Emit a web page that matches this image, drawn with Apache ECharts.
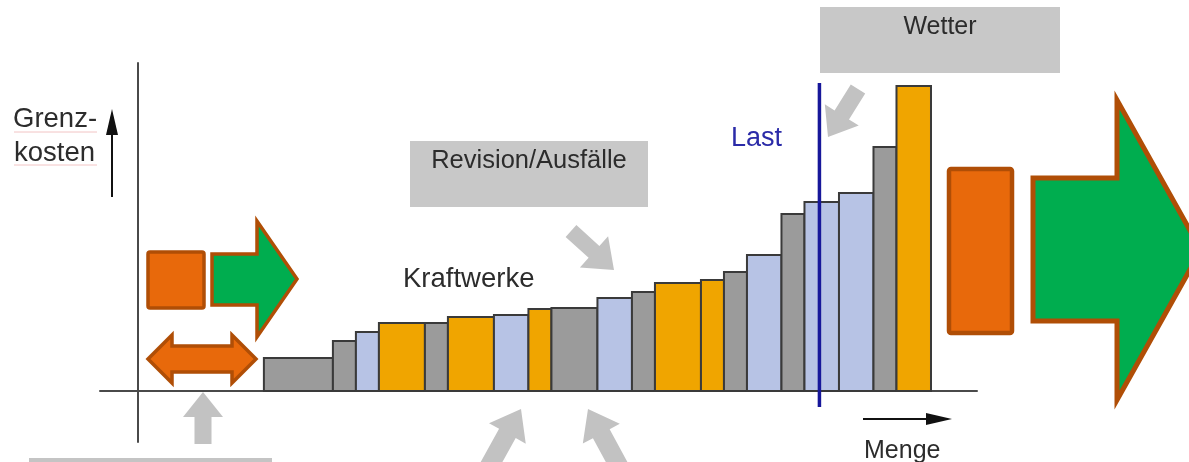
<!DOCTYPE html>
<html>
<head>
<meta charset="utf-8">
<script src="https://cdn.jsdelivr.net/npm/echarts@6/dist/echarts.min.js"></script>
<style>
  html, body { margin: 0; padding: 0; background: #ffffff; }
  #chart { width: 1189px; height: 462px; }
</style>
</head>
<body>
<div id="chart"></div>
<script>
// ---- Data: merit order (Kraftwerke sorted by Grenzkosten) ----
const blockWidths   = [6, 2, 2, 4, 2, 4, 3, 2, 4, 3, 2, 4, 2, 2, 3, 2, 3, 3, 2, 3];       // capacity per plant (Menge)
const marginalCosts = [33, 50, 59, 68, 68, 74, 76, 82, 83, 93, 99, 108, 111, 119, 136, 177, 189, 198, 244, 305]; // Grenzkosten
const plantTypes    = ['grau','grau','blau','orange','grau','orange','blau','orange','grau','blau',
                       'grau','orange','orange','grau','blau','grau','blau','blau','grau','orange'];
const firstBlockStart = 11;      // Menge where the first plant block begins
const loadLevel = 59.3;          // "Last" (demand) position on the Menge axis
const loadLineRange = [-16, 308];// vertical extent of the Last line (axis units)

const typeColors = { grau: '#9b9b9b', blau: '#b7c3e5', orange: '#f0a500' };

// build cumulative blocks
const blocks = [];
let cum = firstBlockStart;
for (let i = 0; i < blockWidths.length; i++) {
  blocks.push([cum, cum + blockWidths[i], marginalCosts[i], i]);
  cum += blockWidths[i];
}

function arrowPts(tx, ty, hx, hy, shaftW, headW, headL) {
  const dx = hx - tx, dy = hy - ty, L = Math.hypot(dx, dy);
  const ux = dx / L, uy = dy / L, nx = -uy, ny = ux;
  const bx = hx - ux * headL, by = hy - uy * headL;
  const s = shaftW / 2, h = headW / 2;
  return [[tx + nx * s, ty + ny * s], [bx + nx * s, by + ny * s], [bx + nx * h, by + ny * h], [hx, hy],
          [bx - nx * h, by - ny * h], [bx - nx * s, by - ny * s], [tx - nx * s, ty - ny * s]];
}

const TXT = '#2c2c2c';
const FONT = 'Liberation Sans, Arial, sans-serif';
const GRAYBOX = '#c8c8c8';
const GRAYARROW = '#c2c2c2';
const ORANGE = '#e8690b', ORANGE_STROKE = '#b04e06', GREEN = '#00ad4f';

function txt(text, x, y, size, align, color) {
  return { type: 'text', z: 20, style: { text: text, x: x, y: y, font: size + 'px ' + FONT,
           fill: color || TXT, align: align, verticalAlign: 'middle' } };
}

const graphics = [
  // gray boxes
  { type: 'rect', z: 5, shape: { x: 410, y: 141, width: 238, height: 66 }, style: { fill: GRAYBOX } },
  { type: 'rect', z: 5, shape: { x: 820, y: 7, width: 240, height: 66 }, style: { fill: GRAYBOX } },
  { type: 'rect', z: 5, shape: { x: 29, y: 458, width: 243, height: 10 }, style: { fill: '#c4c4c4' } },
  // gray influence arrows
  { type: 'polygon', z: 6, shape: { points: arrowPts(571, 231, 614, 270, 16, 42, 27) }, style: { fill: GRAYARROW } },
  { type: 'polygon', z: 6, shape: { points: arrowPts(858, 89, 828, 137, 17, 40, 26) }, style: { fill: GRAYARROW } },
  { type: 'polygon', z: 6, shape: { points: arrowPts(486, 472, 521, 409, 19, 42, 28) }, style: { fill: GRAYARROW } },
  { type: 'polygon', z: 6, shape: { points: arrowPts(622, 472, 588, 409, 19, 42, 28) }, style: { fill: GRAYARROW } },
  { type: 'polygon', z: 6, shape: { points: arrowPts(203, 444, 203, 392, 17, 40, 25) }, style: { fill: GRAYARROW } },
  // small orange / green symbols
  { type: 'rect', z: 10, shape: { x: 148, y: 252, width: 56, height: 56, r: 2 },
    style: { fill: ORANGE, stroke: ORANGE_STROKE, lineWidth: 3.5 } },
  { type: 'polygon', z: 10, shape: { points: [[212,254],[257,254],[257,221],[297,279],[257,337],[257,305],[212,305]] },
    style: { fill: GREEN, stroke: ORANGE_STROKE, lineWidth: 3.5 } },
  { type: 'polygon', z: 10, shape: { points: [[148,359],[172,335],[172,346],[232,346],[232,335],[256,359],[232,383],[232,372],[172,372],[172,383]] },
    style: { fill: ORANGE, stroke: ORANGE_STROKE, lineWidth: 3.5 } },
  // big orange / green symbols
  { type: 'rect', z: 10, shape: { x: 949, y: 169, width: 63, height: 164, r: 2 },
    style: { fill: ORANGE, stroke: ORANGE_STROKE, lineWidth: 4.5 } },
  { type: 'polygon', z: 10, shape: { points: [[1033,178],[1117,178],[1117,100],[1201,250],[1117,400],[1117,321],[1033,321]] },
    style: { fill: GREEN, stroke: ORANGE_STROKE, lineWidth: 5 } },
  // axis direction arrows
  { type: 'line', z: 10, shape: { x1: 112, y1: 197, x2: 112, y2: 128 }, style: { stroke: '#111', lineWidth: 2 } },
  { type: 'polygon', z: 10, shape: { points: [[112,109],[118,135],[106,135]] }, style: { fill: '#111' } },
  { type: 'line', z: 10, shape: { x1: 863, y1: 419, x2: 930, y2: 419 }, style: { stroke: '#111', lineWidth: 2 } },
  { type: 'polygon', z: 10, shape: { points: [[952,419],[926,413],[926,425]] }, style: { fill: '#111' } },
  // spell-check squiggles
  { type: 'line', z: 10, shape: { x1: 14, y1: 132, x2: 97, y2: 132 }, style: { stroke: '#f2c4c4', lineWidth: 1 } },
  { type: 'line', z: 10, shape: { x1: 14, y1: 165, x2: 97, y2: 165 }, style: { stroke: '#f2c4c4', lineWidth: 1 } },
  // texts
  txt('Grenz-', 13, 119, 27.5, 'left'),
  txt('kosten', 14, 153, 27.5, 'left'),
  txt('Revision/Ausfälle', 529, 161, 25.5, 'center'),
  txt('Kraftwerke', 403, 279, 27.5, 'left'),
  txt('Last', 731, 139, 27, 'left', '#2b2ba8'),
  txt('Wetter', 940, 27, 25, 'center'),
  txt('Menge', 864, 451, 25, 'left')
];

const chart = echarts.init(document.getElementById('chart'), null, { renderer: 'canvas' });
chart.setOption({
  animation: false,
  backgroundColor: '#ffffff',
  grid: { left: 100, right: 212, top: 63, bottom: 20 },
  xAxis: {
    type: 'value', min: -3.25, max: 73,
    axisLine: { show: true, onZero: true, lineStyle: { color: '#4a4a4a', width: 2 } },
    axisTick: { show: false }, axisLabel: { show: false }, splitLine: { show: false }
  },
  yAxis: {
    type: 'value', min: -51, max: 328,
    axisLine: { show: true, onZero: true, lineStyle: { color: '#4a4a4a', width: 2 } },
    axisTick: { show: false }, axisLabel: { show: false }, splitLine: { show: false }
  },
  series: [
    {
      type: 'custom',
      z: 3,
      data: blocks,
      renderItem: function (params, api) {
        const p0 = api.coord([api.value(0), 0]);
        const p1 = api.coord([api.value(1), api.value(2)]);
        const t = plantTypes[api.value(3)];
        return {
          type: 'rect',
          shape: { x: p0[0], y: p1[1], width: p1[0] - p0[0], height: p0[1] - p1[1] },
          style: { fill: typeColors[t], stroke: '#3a3a3a', lineWidth: 2 }
        };
      }
    },
    {
      type: 'line',
      z: 4,
      data: [[loadLevel, loadLineRange[1]], [loadLevel, loadLineRange[0]]],
      showSymbol: false,
      symbol: 'none',
      lineStyle: { color: '#17179a', width: 3.5 },
      silent: true
    }
  ],
  graphic: graphics
});
</script>
</body>
</html>
